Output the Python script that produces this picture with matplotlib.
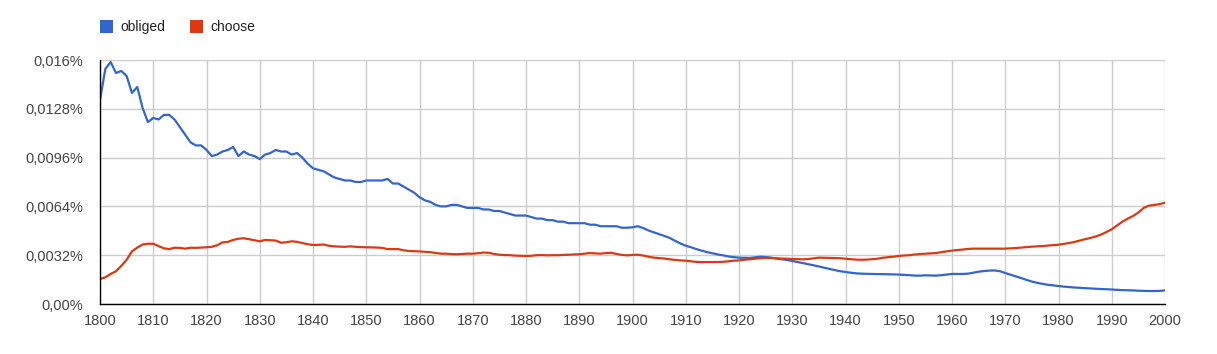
import numpy as np
import matplotlib
matplotlib.use("Agg")
import matplotlib.pyplot as plt
from matplotlib.patches import Rectangle

plt.rcParams["font.family"] = ["Liberation Sans", "DejaVu Sans"]

years = list(range(1800, 2001))

# frequency in percent, one value per year
obliged = [
    0.01338, 0.01541, 0.01587, 0.01515, 0.01528, 0.01495, 0.01384, 0.01423, 0.01285, 0.01193,
    0.0122, 0.0121, 0.0124, 0.0124, 0.0121, 0.0116, 0.0111, 0.0106, 0.0104, 0.0104,
    0.0101, 0.0097, 0.0098, 0.0100, 0.0101, 0.0103, 0.0097, 0.0100, 0.0098, 0.0097,
    0.0095, 0.0098, 0.0099, 0.0101, 0.0100, 0.0100, 0.0098, 0.0099, 0.0096, 0.0092,
    0.0089, 0.0088, 0.0087, 0.0085, 0.0083, 0.0082, 0.0081, 0.0081, 0.0080, 0.0080,
    0.0081, 0.0081, 0.0081, 0.0081, 0.0082, 0.0079, 0.0079, 0.0077, 0.0075, 0.0073,
    0.0070, 0.0068, 0.0067, 0.0065, 0.0064, 0.0064, 0.0065, 0.0065, 0.0064, 0.0063,
    0.0063, 0.0063, 0.0062, 0.0062, 0.0061, 0.0061, 0.0060, 0.0059, 0.0058, 0.0058,
    0.0058, 0.0057, 0.0056, 0.0056, 0.0055, 0.0055, 0.0054, 0.0054, 0.0053, 0.0053,
    0.0053, 0.0053, 0.0052, 0.0052, 0.0051, 0.0051, 0.0051, 0.0051, 0.0050, 0.0050,
    0.00503, 0.0051, 0.00498, 0.00482, 0.0047, 0.00458, 0.00446, 0.00433, 0.00414, 0.00397,
    0.00382, 0.00372, 0.0036, 0.0035, 0.0034, 0.00333, 0.00325, 0.00319, 0.00312, 0.00307,
    0.00304, 0.00303, 0.00302, 0.00306, 0.0031, 0.00308, 0.00304, 0.00298, 0.00293, 0.00289,
    0.00282, 0.00275, 0.00268, 0.00261, 0.00254, 0.00246, 0.00238, 0.0023, 0.00222, 0.00215,
    0.0021, 0.00205, 0.00201, 0.00199, 0.00198, 0.00197, 0.00196, 0.00196, 0.00195, 0.00194,
    0.00193, 0.00191, 0.00189, 0.00186, 0.00186, 0.00188, 0.00187, 0.00186, 0.00189, 0.00193,
    0.00197, 0.00197, 0.00197, 0.00199, 0.00205, 0.00212, 0.00216, 0.00219, 0.0022, 0.00215,
    0.00203, 0.00192, 0.00181, 0.0017, 0.00158, 0.00147, 0.00139, 0.00132, 0.00126, 0.00122,
    0.00118, 0.00114, 0.00111, 0.00108, 0.00106, 0.00104, 0.00102, 0.001, 0.00098, 0.00097,
    0.00095, 0.00093, 0.00091, 0.0009, 0.00089, 0.00087, 0.00086, 0.00085, 0.00085, 0.00086,
    0.00089,
]

choose = [
    0.00164, 0.00175, 0.00197, 0.00215, 0.00250, 0.0029, 0.00345, 0.0037, 0.0039, 0.00395,
    0.00395, 0.0038, 0.00365, 0.0036, 0.00369, 0.00368, 0.00363, 0.00369, 0.00368, 0.00370,
    0.00372, 0.00375, 0.00385, 0.00404, 0.00407, 0.0042, 0.00428, 0.00431, 0.00425, 0.00418,
    0.00411, 0.0042, 0.00418, 0.00416, 0.00402, 0.00405, 0.00411, 0.00408, 0.004, 0.00392,
    0.00387, 0.00388, 0.0039, 0.00382, 0.00378, 0.00376, 0.00375, 0.00378, 0.00375, 0.00373,
    0.00372, 0.00371, 0.0037, 0.00368, 0.0036, 0.0036, 0.0036, 0.00352, 0.00348, 0.00346,
    0.00345, 0.00342, 0.0034, 0.00335, 0.0033, 0.0033, 0.00327, 0.00326, 0.00328, 0.0033,
    0.0033, 0.00333, 0.00337, 0.00336, 0.00328, 0.00323, 0.00321, 0.0032, 0.00317, 0.00316,
    0.00315, 0.00316, 0.0032, 0.00321, 0.00319, 0.0032, 0.0032, 0.00322, 0.00323, 0.00325,
    0.00326, 0.0033, 0.00334, 0.00332, 0.0033, 0.00334, 0.00336, 0.00328, 0.00322, 0.00319,
    0.00322, 0.00323, 0.00318, 0.00310, 0.00304, 0.00301, 0.00298, 0.00293, 0.00289, 0.00286,
    0.00284, 0.00280, 0.00276, 0.00275, 0.00275, 0.00275, 0.00275, 0.00277, 0.0028, 0.00284,
    0.00286, 0.0029, 0.00293, 0.00297, 0.003, 0.00302, 0.00302, 0.003, 0.00298, 0.00297,
    0.00295, 0.00294, 0.00293, 0.00295, 0.00299, 0.00304, 0.00303, 0.00302, 0.00301, 0.003,
    0.00297, 0.00294, 0.00291, 0.0029, 0.00291, 0.00294, 0.00297, 0.00303, 0.00307, 0.0031,
    0.00315, 0.00318, 0.0032, 0.00325, 0.00327, 0.0033, 0.00332, 0.00334, 0.0034, 0.00345,
    0.0035, 0.00354, 0.00357, 0.00361, 0.00363, 0.00363, 0.00363, 0.00363, 0.00363, 0.00363,
    0.00363, 0.00365, 0.00367, 0.0037, 0.00373, 0.00376, 0.00378, 0.0038, 0.00383, 0.00386,
    0.00389, 0.00394, 0.004, 0.00407, 0.00416, 0.00425, 0.00433, 0.00443, 0.00455, 0.00472,
    0.0049, 0.00515, 0.0054, 0.0056, 0.00577, 0.006, 0.0063, 0.00645, 0.0065, 0.00655,
    0.00664,
]

series_names = ["obliged", "choose"]
colors = ["#3366cc", "#dc3912"]

y_ticks = [0.0, 0.0032, 0.0064, 0.0096, 0.0128, 0.016]
y_labels = ["0,00%", "0,0032%", "0,0064%", "0,0096%", "0,0128%", "0,016%"]
x_ticks = list(range(1800, 2001, 10))

W, H = 1217, 354
fig = plt.figure(figsize=(W / 100, H / 100), dpi=100)
ax = fig.add_axes([100 / W, 50 / H, 1065 / W, 244 / H])

for vals, c in zip([obliged, choose], colors):
    ax.plot(years, vals, color=c, lw=1.6, solid_joinstyle="round", zorder=3)

ax.set_xlim(1800, 2000)
ax.set_ylim(0, 0.016)
ax.set_xticks(x_ticks)
ax.set_xticklabels([str(x) for x in x_ticks])
ax.set_yticks(y_ticks)
ax.set_yticklabels(y_labels)
ax.grid(True, color="#cccccc", lw=1)
ax.tick_params(length=0, labelsize=10.5, colors="#444444")
ax.tick_params(axis="y", pad=12)
ax.tick_params(axis="x", pad=7)

for s in ["top", "right"]:
    ax.spines[s].set_visible(False)
for s in ["left", "bottom"]:
    ax.spines[s].set_color("black")
    ax.spines[s].set_linewidth(1)
    ax.spines[s].set_zorder(4)

# legend at the top
legend_x = [100, 190]
for name, c, lx in zip(series_names, colors, legend_x):
    fig.add_artist(Rectangle((lx / W, (H - 33) / H), 13 / W, 13 / H,
                             transform=fig.transFigure, color=c, lw=0))
    fig.text((lx + 20) / W, (H - 27) / H, name, fontsize=10, color="#222222",
             va="center", ha="left")

fig.savefig("out.png", dpi=100)
